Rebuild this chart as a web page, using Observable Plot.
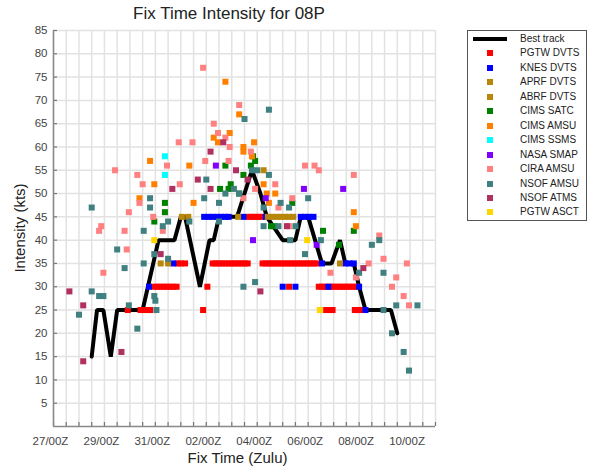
<!DOCTYPE html>
<html><head><meta charset="utf-8">
<script src="https://cdn.jsdelivr.net/npm/d3@7"></script>
<script src="https://cdn.jsdelivr.net/npm/@observablehq/plot@0.6"></script>
<style>
body{margin:0;background:#fff;font-family:"Liberation Sans",Arial,sans-serif;}
#wrap{position:relative;width:589px;height:470px;overflow:hidden;background:#fff;}
#chart{position:absolute;left:0;top:0;}
.lbl{position:absolute;color:#222;white-space:nowrap;}
#title{left:0;width:458px;top:3px;text-align:center;font-size:17px;line-height:22px;}
#xlabel{left:0;width:475px;top:448px;text-align:center;font-size:15px;line-height:20px;}
#ylabel{left:-80px;top:218px;width:200px;height:20px;line-height:20px;text-align:center;font-size:15px;transform:rotate(-90deg);}
#legend{position:absolute;left:467px;top:30px;width:120px;height:191px;border:1px solid #555;box-sizing:border-box;}
.lg{position:absolute;font-size:10px;line-height:14px;height:14px;color:#222;white-space:nowrap;}
.sw{position:absolute;}
</style></head>
<body>
<div id="wrap">
  <div id="chart"></div>
  <div id="title" class="lbl">Fix Time Intensity for 08P</div>
  <div id="xlabel" class="lbl">Fix Time (Zulu)</div>
  <div id="ylabel" class="lbl">Intensity (kts)</div>
  <div id="legend"></div>
</div>
<script>
// Time origin: 27/00Z; all times below are hours after it
const startUTC = Date.UTC(2021, 0, 27, 0);
const spanHours = 360;

const sources = ["PGTW DVTS","KNES DVTS","APRF DVTS","ABRF DVTS","CIMS SATC","CIMS AMSU","CIMS SSMS","NASA SMAP","CIRA AMSU","NSOF AMSU","NSOF ATMS","PGTW ASCT"];
const colors  = ["#ff0000","#0000ff","#b8860b","#b8860b","#008000","#ff8000","#00ffff","#8000ff","#ff8080","#408080","#b03060","#ffd700"];

// Best track [hours, kts]
const bestTrack = [[36,15],[41,25],[47,25],[54,15],[60,25],[84,25],[99,40],[114,40],[120,45],[124,45],[138,30],[147,40],[151,40],[156,45],[173,45],[187,55],[195,50],[201,45],[216,40],[228,40],[233,45],[240,45],[253,35],[262,35],[270,40],[275,35],[283,35],[288,30],[294,25],[318,25],[324,20]];

// Fixes [hours, kts]
const pgtwDvts = [[70,25],[82,25],[85,25],[88,25],[91,25],[141,25],[257,25],[260,25],[263,25],[284,25],[287,25],[289,25],
 [95,30],[98,30],[101,30],[104,30],[107,30],[110,30],[113,30],[116,30],[145,30],[222,30],[250,30],[253,30],[256,30],[261,30],[264,30],[267,30],[270,30],[273,30],[276,30],[279,30],[282,30],[285,30],
 [117,35],[120,35],[124,35],[150,35],[153,35],[156,35],[159,35],[162,35],[165,35],[168,35],[171,35],[174,35],[177,35],[180,35],[183,35],[197,35],[200,35],[203,35],[206,35],[209,35],[212,35],[215,35],[218,35],[221,35],[224,35],[227,35],[230,35],[233,35],[236,35],[239,35],[242,35],[245,35],[248,35],
 [184,45],[187,45],[190,45],[193,45],[196,45]];
const knesDvts = [[90,30],[216,30],[228,30],[259,30],[288,30],[113,35],[253,35],[275,35],[279,35],[283,35],[142,45],[146,45],[150,45],[154,45],[158,45],[162,45],[165,45],[179,45],[200,45],[233,45],[237,45],[241,45],[245,45],[294,25]];
const aprfDvts = [[101,35],[108,35],[121,45],[127,45],[174,45],[270,35]];
const abrfDvts = [[198,55],[202,45],[206,45],[210,45],[214,45],[218,45],[222,45],[226,45]];
const cimsSatc = [[105,48],[105,46],[95,44],[188,58],[190,57],[186,56],[162,56],[179,54],[157,51],[167,52],[165,51],[175,50],[225,48],[205,43],[208,43],[254,42],[283,42],[269,39]];
const cimsAmsu = [[91,57],[95,52],[128,56],[81,49],[132,48],[162,74],[175,67],[166,63],[151,62],[155,61],[189,61],[179,60],[179,59],[187,58],[198,52],[201,50],[209,50],[203,48],[283,46],[285,43]];
const cimsSsms = [[105,58],[105,54]];
const nasaSmap = [[153,56],[200,49],[188,40],[236,51],[273,51],[248,39]];
const ciraAmsu = [[58,55],[79,54],[84,52],[107,56],[119,52],[81,48],[71,46],[94,45],[45,43],[43,42],[67,42],[103,42],[69,38],[47,33],[141,77],[175,69],[151,65],[155,63],[162,62],[166,60],[118,61],[131,61],[186,59],[143,57],[165,57],[209,52],[190,51],[225,49],[179,49],[212,47],[222,43],[237,56],[246,56],[250,55],[283,54],[307,41],[297,35],[311,36],[333,35],[261,33],[285,32],[323,32],[319,30],[330,28],[335,26]];
const nsofAmsu = [[36,47],[36,29],[43,28],[47,28],[24,24],[60,38],[67,34],[71,26],[79,21],[85,42],[85,35],[91,49],[91,47],[95,28],[96,27],[97,25],[95,37],[103,43],[108,36],[108,44],[128,44],[203,68],[180,66],[144,53],[142,49],[156,48],[156,44],[162,50],[170,51],[175,50],[187,55],[192,55],[203,54],[198,47],[214,48],[222,47],[198,43],[212,43],[228,43],[240,49],[179,30],[190,31],[252,40],[237,37],[288,33],[300,39],[307,40],[311,33],[311,25],[323,26],[343,26],[319,20],[330,16],[335,12],[223,40]];
const nsofAtms = [[15,29],[28,26],[28,14],[64,16],[101,37],[112,51],[136,53],[148,59],[160,61],[172,55],[183,53],[195,29],[220,43],[292,34],[148,51]];
const pgtwAsct = [[95,40],[239,40],[251,25]];

const fixSeries = [pgtwDvts,knesDvts,aprfDvts,abrfDvts,cimsSatc,cimsAmsu,cimsSsms,nasaSmap,ciraAmsu,nsofAmsu,nsofAtms,pgtwAsct];
const yTicks = d3.range(5, 86, 5);

const toDate = h => new Date(startUTC + h * 3600e3);
const fixes = sources.flatMap((name, i) => fixSeries[i].map(([h, v]) => ({name, t: toDate(h), v})));
const best = bestTrack.map(([h, v]) => ({t: toDate(h), v}));
const ticks12 = d3.range(0, spanHours + 1, 12).map(toDate);
const labelTicks = d3.range(0, spanHours - 23, 48).map(toDate);

const chart = Plot.plot({
  width: 589, height: 470,
  marginLeft: 53, marginRight: 154, marginTop: 30, marginBottom: 44,
  style: {fontFamily: "Liberation Sans, Arial, sans-serif", fontSize: "11.5px", color: "#444", background: "transparent"},
  x: {type: "utc", domain: [toDate(0), toDate(spanHours)]},
  y: {domain: [0, 85]},
  color: {domain: sources, range: colors},
  marks: [
    Plot.gridX(ticks12, {stroke: "#e2e2e2", strokeOpacity: 1, strokeWidth: 1.5}),
    Plot.gridY(yTicks, {stroke: "#e2e2e2", strokeOpacity: 1, strokeWidth: 1.5}),
    Plot.axisX(ticks12, {tickSize: 4, dy: -4, tickFormat: () => "", stroke: "#777", strokeWidth: 1.2, label: null}),
    Plot.axisX(labelTicks, {tickSize: 0, tickPadding: 10, dx: -3, tickFormat: d3.utcFormat("%d/%HZ"), fill: "#444", label: null}),
    Plot.axisY(yTicks, {tickSize: 4, dx: 4, tickFormat: () => "", stroke: "#777", strokeWidth: 1.2, label: null}),
    Plot.axisY(yTicks, {tickSize: 0, tickPadding: 6, fill: "#444", label: null}),
    Plot.ruleX([toDate(0)], {stroke: "#888", strokeWidth: 1.5}),
    Plot.ruleY([0], {stroke: "#888", strokeWidth: 1.5}),
    Plot.line(best, {x: "t", y: "v", stroke: "black", strokeWidth: 4, strokeLinejoin: "miter"}),
    Plot.dot(fixes, {x: "t", y: "v", fill: "name", symbol: "square", r: 3.4})
  ]
});
document.getElementById("chart").appendChild(chart);

// Legend
const wrap = document.getElementById("wrap");
const rowY = i => 39 + i * 14.45;
function add(html, cls, style) {
  const el = document.createElement("div");
  el.className = cls; el.innerHTML = html; Object.assign(el.style, style);
  wrap.appendChild(el);
}
add("", "sw", {left: "473px", top: (rowY(0) - 2) + "px", width: "34px", height: "4px", background: "#000"});
add("Best track", "lg", {left: "520px", top: (rowY(0) - 7) + "px"});
sources.forEach((s, i) => {
  const y = rowY(i + 1);
  add("", "sw", {left: "487px", top: (y - 3) + "px", width: "6px", height: "6px", background: colors[i]});
  add(s, "lg", {left: "520px", top: (y - 7) + "px"});
});
</script>
</body></html>
